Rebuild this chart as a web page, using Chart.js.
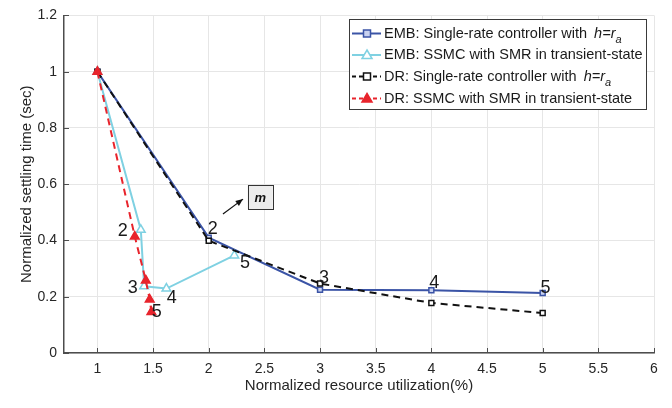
<!DOCTYPE html>
<html>
<head>
<meta charset="utf-8">
<script src="https://cdn.jsdelivr.net/npm/chart.js@4"></script>
<style>
  html, body { margin: 0; padding: 0; background: #fff; }
  #wrap { width: 672px; height: 408px; }
</style>
</head>
<body>
<div id="wrap"><canvas id="c" width="672" height="408"></canvas></div>
<script>
// data
const embSingleX = [1, 2, 3, 4, 5];
const embSingleY = [1, 0.41, 0.225, 0.223, 0.213];
const embSsmcX = [1, 1.39, 1.42, 1.62, 2.23];
const embSsmcY = [1, 0.438, 0.237, 0.229, 0.347];
const drSingleX = [1, 2, 3, 4, 5];
const drSingleY = [1, 0.399, 0.247, 0.178, 0.142];
const drSsmcX = [1, 1.336, 1.435, 1.47, 1.485];
const drSsmcY = [1, 0.414, 0.258, 0.19, 0.146];

const xTicks = [1, 1.5, 2, 2.5, 3, 3.5, 4, 4.5, 5, 5.5, 6];
const yTicks = [0, 0.2, 0.4, 0.6, 0.8, 1, 1.2];

// number labels next to the points (text, x, y in data units)
const pointLabels = [
  ["2", 1.227, 0.435], ["3", 1.318, 0.232], ["4", 1.669, 0.197], ["5", 1.534, 0.147],
  ["5", 2.327, 0.321],
  ["2", 2.037, 0.441], ["3", 3.036, 0.268], ["4", 4.027, 0.250], ["5", 5.026, 0.232]
];

const legendLabels = [
  "EMB: Single-rate controller with ",
  "EMB: SSMC with SMR in transient-state",
  "DR: Single-rate controller with ",
  "DR: SSMC with SMR in transient-state"
];

const BLUE = "#3b54a6", LIGHT = "#7fd1e2", BLACK = "#111", RED = "#e8242c";
const FONT = "'Liberation Sans', Arial, sans-serif";

function pts(xs, ys) { return xs.map((x, i) => ({ x, y: ys[i] })); }

const styles = [
  { color: BLUE, dash: [], marker: "rect", fill: "#c9d2f0", order: 3 },
  { color: LIGHT, dash: [], marker: "triangle", fill: "#ffffff", order: 2 },
  { color: BLACK, dash: [7, 5], marker: "rect", fill: "#ffffff", order: 1 },
  { color: RED, dash: [7, 5], marker: "triangle", fill: RED, order: 0 }
];

const series = [pts(embSingleX, embSingleY), pts(embSsmcX, embSsmcY),
                pts(drSingleX, drSingleY), pts(drSsmcX, drSsmcY)];

const datasets = series.map((d, i) => ({
  label: legendLabels[i],
  data: d,
  showLine: true,
  borderColor: styles[i].color,
  borderWidth: 2,
  borderDash: styles[i].dash,
  pointStyle: styles[i].marker,
  pointRadius: styles[i].marker === "rect" ? 3.5 : 5,
  pointBorderWidth: 1.5,
  pointBorderColor: styles[i].color,
  pointBackgroundColor: styles[i].fill,
  order: styles[i].order,
  tension: 0
}));

const extras = {
  id: "extras",
  afterDraw(chart) {
    const ctx = chart.ctx;
    const xs = chart.scales.x, ys = chart.scales.y;
    const a = chart.chartArea;
    ctx.save();

    // inward tick marks
    ctx.strokeStyle = "#4d4d4d";
    ctx.lineWidth = 1;
    ctx.beginPath();
    xTicks.forEach(v => {
      const px = Math.round(xs.getPixelForValue(v)) + 0.5;
      ctx.moveTo(px, a.bottom); ctx.lineTo(px, a.bottom - 5);
    });
    yTicks.forEach(v => {
      const py = Math.round(ys.getPixelForValue(v)) + 0.5;
      ctx.moveTo(a.left, py); ctx.lineTo(a.left + 5, py);
    });
    ctx.stroke();

    // point number labels
    ctx.fillStyle = "#1a1a1a";
    ctx.font = "18px " + FONT;
    ctx.textAlign = "center";
    ctx.textBaseline = "middle";
    pointLabels.forEach(([t, x, y]) => {
      ctx.fillText(t, xs.getPixelForValue(x), ys.getPixelForValue(y));
    });

    // arrow + "m" box
    const ax0 = xs.getPixelForValue(2.128), ay0 = ys.getPixelForValue(0.494);
    const ax1 = xs.getPixelForValue(2.308), ay1 = ys.getPixelForValue(0.547);
    ctx.strokeStyle = "#111"; ctx.fillStyle = "#111"; ctx.lineWidth = 1.2;
    ctx.beginPath(); ctx.moveTo(ax0, ay0); ctx.lineTo(ax1, ay1); ctx.stroke();
    const ang = Math.atan2(ay1 - ay0, ax1 - ax0);
    ctx.beginPath();
    ctx.moveTo(ax1, ay1);
    ctx.lineTo(ax1 - 8 * Math.cos(ang - 0.4), ay1 - 8 * Math.sin(ang - 0.4));
    ctx.lineTo(ax1 - 8 * Math.cos(ang + 0.4), ay1 - 8 * Math.sin(ang + 0.4));
    ctx.closePath(); ctx.fill();
    const bx0 = xs.getPixelForValue(2.35), by0 = ys.getPixelForValue(0.596);
    const bx1 = xs.getPixelForValue(2.575), by1 = ys.getPixelForValue(0.512);
    ctx.fillStyle = "#ececec";
    ctx.fillRect(bx0, by0, bx1 - bx0, by1 - by0);
    ctx.strokeStyle = "#333"; ctx.lineWidth = 1;
    ctx.strokeRect(Math.round(bx0) + 0.5, Math.round(by0) + 0.5, Math.round(bx1 - bx0), Math.round(by1 - by0));
    ctx.fillStyle = "#111";
    ctx.font = "italic bold 13px " + FONT;
    ctx.fillText("m", (bx0 + bx1) / 2, (by0 + by1) / 2 + 1);

    // legend
    const lx = 349.5, ly = 19.5, lw = 297, lh = 90;
    ctx.fillStyle = "#fff";
    ctx.fillRect(lx, ly, lw, lh);
    ctx.strokeStyle = "#3a3a3a"; ctx.lineWidth = 1;
    ctx.strokeRect(lx, ly, lw, lh);
    const rows = [33.5, 55, 76.5, 98.5];
    ctx.textAlign = "left";
    rows.forEach((ry, i) => {
      const s = styles[i];
      ctx.strokeStyle = s.color; ctx.lineWidth = 2;
      ctx.setLineDash(s.dash.length ? [4, 3] : []);
      ctx.beginPath(); ctx.moveTo(352, ry); ctx.lineTo(381, ry); ctx.stroke();
      ctx.setLineDash([]);
      ctx.lineWidth = 1.5; ctx.fillStyle = s.fill;
      ctx.beginPath();
      if (s.marker === "rect") {
        ctx.rect(363.5, ry - 3.5, 7, 7);
      } else {
        ctx.moveTo(367, ry - 5); ctx.lineTo(372, ry + 3.5); ctx.lineTo(362, ry + 3.5); ctx.closePath();
      }
      ctx.fill(); ctx.stroke();
      ctx.fillStyle = "#1a1a1a";
      ctx.font = "14.5px " + FONT;
      ctx.textBaseline = "middle";
      const t = legendLabels[i];
      ctx.fillText(t, 384, ry);
      if (i === 0 || i === 2) {
        let px = 384 + ctx.measureText(t).width + 3;
        ctx.font = "italic 14.5px " + FONT;
        ctx.fillText("h=r", px, ry);
        px += ctx.measureText("h=r").width;
        ctx.font = "italic 11px " + FONT;
        ctx.fillText("a", px, ry + 6);
      }
    });
    ctx.restore();
  }
};

new Chart(document.getElementById("c"), {
  type: "scatter",
  data: { datasets },
  options: {
    responsive: false,
    animation: false,
    devicePixelRatio: 1,
    layout: { padding: { top: 13, right: 18, left: 14, bottom: 9 } },
    plugins: { legend: { display: false }, tooltip: { enabled: false } },
    scales: {
      x: {
        type: "linear", min: 0.7, max: 6,
        afterBuildTicks: s => { s.ticks = xTicks.map(v => ({ value: v })); },
        afterFit: s => { s.height = 46; },
        ticks: { color: "#262626", font: { family: FONT, size: 14 }, padding: 8,
                 callback: v => String(v) },
        grid: { color: "#e6e6e6", drawTicks: false, lineWidth: 1 },
        border: { display: true, color: "#4d4d4d", width: 1.5 },
        title: { display: true, text: "Normalized resource utilization(%)", color: "#262626",
                 font: { family: FONT, size: 15 }, padding: { top: 2 } }
      },
      y: {
        type: "linear", min: 0, max: 1.2,
        afterBuildTicks: s => { s.ticks = yTicks.map(v => ({ value: v })); },
        afterFit: s => { s.width = 50; },
        ticks: { color: "#262626", font: { family: FONT, size: 14 }, padding: 7,
                 callback: v => String(v) },
        grid: { color: "#e6e6e6", drawTicks: false, lineWidth: 1 },
        border: { display: true, color: "#4d4d4d", width: 1.5 },
        title: { display: true, text: "Normalized settling time (sec)", color: "#262626",
                 font: { family: FONT, size: 15 }, padding: { bottom: 2 } }
      }
    }
  },
  plugins: [extras]
});
</script>
</body>
</html>
